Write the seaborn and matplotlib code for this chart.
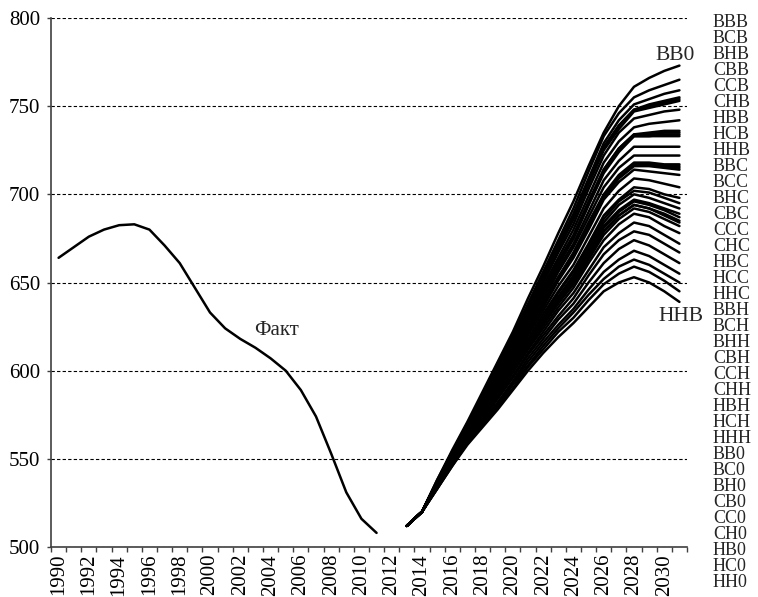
import matplotlib
matplotlib.use("Agg")
import matplotlib.pyplot as plt
from matplotlib.ticker import FixedLocator
import pandas as pd
import seaborn as sns

# actual values
fact_years = list(range(1990, 2012))
fact = [664, 670, 676, 680, 682.5, 683, 680, 671, 661, 647, 633, 624, 618, 613,
        607, 600, 589, 574, 553, 531, 516, 508]

# scenario forecasts, 2013..2031
forecast_years = list(range(2013, 2032))
bb0 = [512, 520, 538, 555, 571, 588, 605, 622, 641, 659, 678, 696, 716, 735, 750, 761, 766, 770, 773]
bc0 = [512, 520, 538, 554, 570, 587, 603, 620, 638, 656, 674, 692, 713, 733, 746, 755, 759, 762, 765]
bh0 = [512, 520, 537, 554, 570, 586, 602, 619, 637, 654, 672, 689, 709, 729, 742, 751, 754, 757, 759]
cb0 = [512, 520, 537, 554, 569, 585, 601, 618, 635, 652, 670, 687, 707, 727, 739, 748, 751, 753, 755]
cc0 = [512, 520, 537, 553, 569, 585, 601, 617, 635, 652, 670, 686, 706, 726, 739, 748, 750, 752, 754]
ch0 = [512, 520, 537, 553, 569, 585, 601, 617, 635, 652, 669, 686, 706, 725, 737, 747, 749, 751, 753]
hb0 = [512, 520, 537, 553, 569, 584, 600, 616, 633, 650, 667, 683, 703, 722, 735, 743, 745, 747, 748]
hc0 = [512, 520, 537, 553, 568, 583, 599, 614, 632, 648, 664, 680, 699, 718, 730, 738, 740, 741, 742]
hh0 = [512, 520, 537, 552, 567, 582, 598, 613, 630, 646, 662, 677, 696, 714, 726, 734, 735, 736, 736]
bbh = [512, 520, 537, 552, 567, 582, 597, 613, 629, 645, 661, 676, 695, 714, 726, 734, 734, 735, 735]
bch = [512, 520, 536, 552, 567, 582, 597, 612, 629, 644, 660, 675, 694, 712, 724, 733, 733, 734, 734]
bhh = [512, 520, 536, 552, 567, 582, 597, 612, 629, 644, 660, 675, 694, 713, 725, 733, 733, 733, 733]
cbh = [512, 520, 536, 552, 566, 581, 596, 611, 627, 642, 658, 672, 690, 708, 719, 727, 727, 727, 727]
cch = [512, 520, 536, 552, 566, 580, 595, 609, 625, 640, 656, 670, 687, 704, 715, 722, 722, 722, 722]
chh = [512, 520, 536, 551, 566, 580, 594, 608, 624, 639, 653, 667, 684, 700, 711, 718, 718, 717, 717]
hbh = [512, 520, 536, 551, 565, 579, 593, 608, 623, 638, 653, 666, 683, 699, 710, 717, 717, 716, 716]
hch = [512, 520, 535, 551, 565, 579, 593, 607, 623, 637, 652, 666, 683, 699, 710, 717, 717, 716, 715]
hhh = [512, 520, 535, 551, 565, 579, 593, 607, 622, 637, 652, 665, 682, 698, 709, 716, 716, 715, 714]
bbc = [512, 520, 535, 551, 565, 579, 592, 607, 622, 636, 651, 664, 680, 697, 707, 714, 713, 712, 711]
bcc = [512, 520, 535, 550, 564, 578, 591, 605, 620, 634, 648, 660, 676, 692, 702, 709, 708, 706, 704]
bhc = [512, 520, 535, 550, 564, 577, 590, 603, 618, 632, 645, 657, 672, 688, 697, 704, 703, 700, 698]
cbc = [512, 520, 535, 550, 563, 576, 589, 603, 617, 630, 644, 656, 671, 686, 696, 702, 701, 698, 695]
ccc = [512, 520, 535, 550, 563, 576, 589, 602, 616, 629, 642, 654, 669, 684, 694, 700, 698, 695, 692]
chc = [512, 520, 535, 549, 563, 575, 588, 601, 615, 628, 641, 653, 668, 682, 691, 697, 695, 692, 689]
hbc = [512, 520, 535, 549, 563, 575, 588, 601, 615, 627, 640, 652, 667, 681, 690, 696, 694, 691, 687]
hcc = [512, 520, 534, 549, 562, 575, 587, 600, 614, 627, 639, 651, 665, 679, 688, 694, 692, 689, 685]
hhc = [512, 520, 534, 549, 562, 575, 587, 600, 614, 626, 639, 650, 665, 679, 688, 694, 692, 688, 684]
bbb = [512, 520, 534, 549, 562, 574, 587, 600, 613, 626, 638, 649, 663, 677, 686, 692, 690, 686, 682]
bcb = [512, 520, 534, 549, 562, 574, 586, 599, 612, 624, 636, 647, 661, 674, 683, 689, 687, 682, 678]
bhb = [512, 520, 534, 548, 561, 573, 585, 597, 610, 622, 634, 644, 657, 670, 678, 684, 682, 677, 672]
cbb = [512, 520, 534, 548, 561, 572, 584, 596, 609, 620, 631, 641, 654, 666, 674, 679, 677, 672, 667]
ccb = [512, 520, 534, 547, 560, 571, 582, 594, 607, 618, 629, 638, 650, 661, 669, 674, 671, 666, 661]
chb = [512, 520, 534, 547, 560, 570, 581, 593, 605, 616, 626, 635, 646, 656, 663, 668, 665, 660, 655]
hbb = [512, 520, 533, 547, 559, 570, 580, 592, 603, 614, 624, 633, 643, 652, 659, 663, 660, 655, 650]
hcb = [512, 520, 533, 546, 559, 569, 579, 590, 602, 612, 622, 630, 640, 649, 655, 659, 656, 651, 645]
hhb = [512, 520, 533, 546, 558, 568, 578, 589, 600, 610, 619, 627, 636, 645, 650, 653, 650, 645, 639]

scenarios = ["ВВВ", "ВСВ", "ВНВ", "СВВ", "ССВ", "СНВ", "НВВ", "НСВ", "ННВ",
             "ВВС", "ВСС", "ВНС", "СВС", "ССС", "СНС", "НВС", "НСС", "ННС",
             "ВВН", "ВСН", "ВНН", "СВН", "ССН", "СНН", "НВН", "НСН", "ННН",
             "ВВ0", "ВС0", "ВН0", "СВ0", "СС0", "СН0", "НВ0", "НС0", "НН0"]
series = [bbb, bcb, bhb, cbb, ccb, chb, hbb, hcb, hhb,
          bbc, bcc, bhc, cbc, ccc, chc, hbc, hcc, hhc,
          bbh, bch, bhh, cbh, cch, chh, hbh, hch, hhh,
          bb0, bc0, bh0, cb0, cc0, ch0, hb0, hc0, hh0]

rows = []
for name, vals in zip(scenarios, series):
    for yr, v in zip(forecast_years, vals):
        rows.append((name, yr, v))
df = pd.DataFrame(rows, columns=["scenario", "year", "value"])
fact_df = pd.DataFrame({"year": fact_years, "value": fact})

sns.set_style("white")
plt.rcParams["font.family"] = ["Liberation Serif", "DejaVu Serif"]

fig = plt.figure(figsize=(7.58, 5.97), dpi=100)
ax = fig.add_axes([51 / 758, 1 - 547 / 597, 636 / 758, 529 / 597])

sns.lineplot(data=fact_df, x="year", y="value", color="black", lw=1.8, ax=ax)
sns.lineplot(data=df, x="year", y="value", units="scenario", estimator=None,
             color="black", lw=1.8, ax=ax, legend=False)

ax.set_xlim(1989.5, 2031.5)
ax.set_ylim(500, 800)
ax.set_yticks(range(500, 801, 50))
ax.set_xticks(range(1990, 2031, 2))
ax.xaxis.set_minor_locator(FixedLocator([y - 0.5 for y in range(1990, 2033)]))
ax.tick_params(axis="x", which="major", length=0, pad=5, labelsize=15,
               labelrotation=90, labelcolor="black")
ax.tick_params(axis="x", which="minor", bottom=True, length=3.6, width=1,
               color="#404040", direction="out")
ax.tick_params(axis="y", left=True, length=3, width=1, color="#404040",
               pad=5, labelsize=15, labelcolor="black")
ax.set_xlabel("")
ax.set_ylabel("")

ax.yaxis.grid(True, linestyle=(0, (3, 2)), color="black", lw=0.8)
ax.xaxis.grid(False)
for side in ["top", "right"]:
    ax.spines[side].set_visible(False)
for side in ["left", "bottom"]:
    ax.spines[side].set_color("#404040")
    ax.spines[side].set_linewidth(1.2)

ax.text(2004.4, 623, "Факт", ha="center", va="center", fontsize=15)
ax.text(2030.7, 779, "ВВ0", ha="center", va="center", fontsize=15.5)
ax.text(2031.1, 631, "ННВ", ha="center", va="center", fontsize=15.5)

# scenario list on the right
for i, name in enumerate(scenarios):
    fig.text(713 / 758, 1 - (27.3 + 16.0 * i) / 597, name, fontsize=13,
             ha="left", va="baseline")

fig.savefig("out.png", dpi=100)
